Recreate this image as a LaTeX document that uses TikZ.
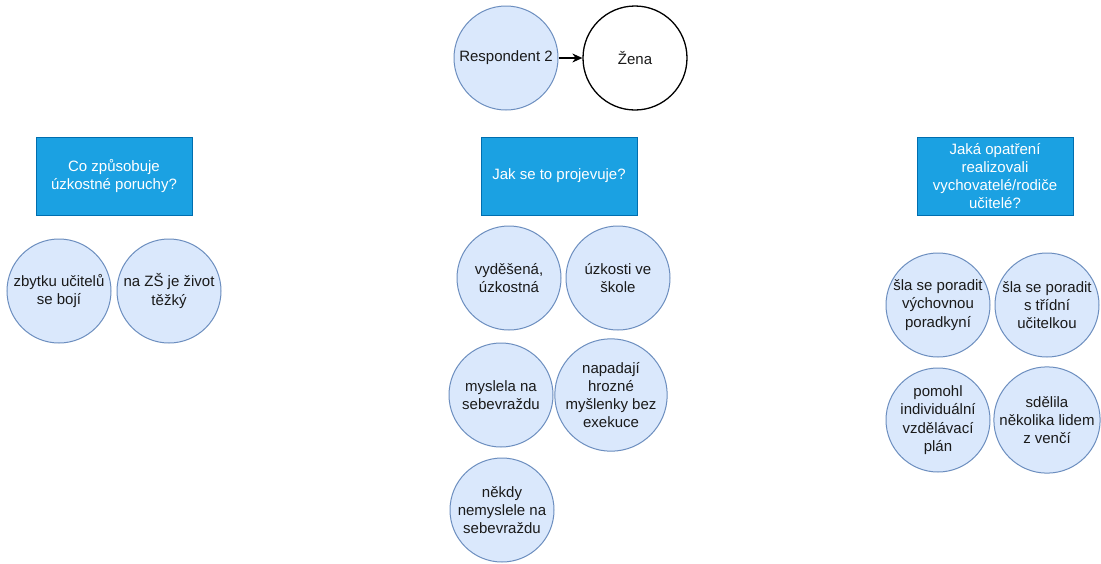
\documentclass[tikz,border=0pt]{standalone}
\usepackage{fontspec}
\setmainfont{Liberation Sans}
\usetikzlibrary{arrows.meta}
\definecolor{cfill}{HTML}{DAE8FC}
\definecolor{cdraw}{HTML}{6C8EBF}
\definecolor{bfill}{HTML}{1BA1E2}
\definecolor{bdraw}{HTML}{006EAF}
\definecolor{txt}{HTML}{1A1A1A}
\begin{document}
\begin{tikzpicture}[x=1pt,y=-1pt,
  every node/.style={font=\fontsize{15}{18.3}\selectfont, align=center, text=txt},
  bubble/.style={circle, draw=cdraw, fill=cfill, line width=1pt, minimum size=104pt, inner sep=0pt},
  plain/.style={circle, draw=black, fill=white, line width=1.3pt, minimum size=104pt, inner sep=0pt},
  qbox/.style={rectangle, draw=bdraw, fill=bfill, line width=1pt, minimum width=156pt, minimum height=78pt, inner sep=0pt, text=white},
  link/.style={-{Stealth[length=10pt,width=9pt]}, line width=1.1pt, black}
]
\useasboundingbox (0,0) rectangle (1101,563);
\fill[white] (0,0) rectangle (1101,563);

\node[bubble] (resp) at (506,58) {Respondent 2};
\node[plain] (zena) at (635,58) {Žena};
\draw[link] (resp) -- (zena);

\node[qbox] (q1) at (114,176) {Co způsobuje\\úzkostné poruchy?};
\node[qbox] (q2) at (559,176) {Jak se to projevuje?};
\node[qbox] (q3) at (995,176) {Jaká opatření\\realizovali\\vychovatelé/rodiče\\učitelé?};

\node[bubble] (a1) at (59,291) {zbytku učitelů\\se bojí};
\node[bubble] (a2) at (169,291) {na ZŠ je život\\těžký};

\node[bubble] (b1) at (509,278) {vyděšená,\\úzkostná};
\node[bubble] (b2) at (618,278) {úzkosti ve\\škole};
\node[bubble] (b3) at (501,395) {myslela na\\sebevraždu};
\node[bubble] (b4) at (611,395) {napadají\\hrozné\\myšlenky bez\\exekuce};
\node[bubble] (b5) at (502,510) {někdy\\nemyslele na\\sebevraždu};

\node[bubble] (c1) at (938,305) {šla se poradit\\výchovnou\\poradkyní};
\node[bubble] (c2) at (1047,305) {šla se poradit\\s třídní\\učitelkou};
\node[bubble] (c3) at (938,420) {pomohl\\individuální\\vzdělávací\\plán};
\node[bubble] (c4) at (1047,420) {sdělila\\několika lidem\\z venčí};
\end{tikzpicture}
\end{document}
